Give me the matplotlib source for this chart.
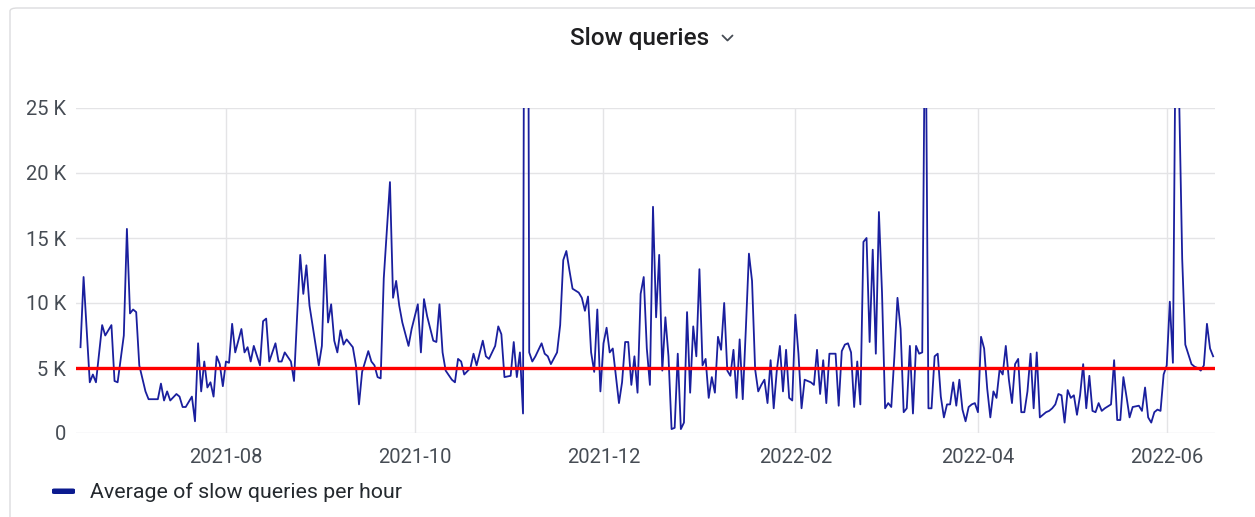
import matplotlib
matplotlib.use("Agg")
import matplotlib.pyplot as plt
import matplotlib.dates as mdates
import pandas as pd
from matplotlib.lines import Line2D
from matplotlib.patches import FancyBboxPatch

# day offsets from 2021-06-14 and the daily average of slow queries per hour
start_date = "2021-06-14"
days = [
    1, 2, 4, 5, 6, 8, 9, 11, 12, 13,
    15, 16, 17, 18, 19, 20, 22, 23, 26, 27,
    28, 29, 30, 32, 33, 34, 35, 37, 38, 39,
    40, 41, 42, 43, 44, 45, 46, 47, 48, 49,
    50, 51,
    53, 54, 55, 56, 57, 59, 60, 61, 62, 64,
    65, 66, 67, 69, 70, 71, 72, 73, 74, 75,
    77, 78, 79, 80, 81, 82, 83, 84, 85, 86,
    87, 89, 90, 91, 92, 94, 95, 96, 97, 98,
    99, 101, 102, 103, 104, 105, 107, 108, 110,
    111, 112, 113, 115, 116, 117, 118, 119, 121, 122,
    123, 124, 125, 127, 128, 129, 131, 132, 133, 135,
    136, 137, 138, 140, 141, 142, 143, 144, 145, 146,
    147, 148, 150, 151, 152, 153, 155, 156, 157, 158,
    159, 160, 162, 163, 164, 165, 166, 167, 168,
    169, 170, 171, 172, 173, 175, 176, 177, 178, 179,
    180, 181, 182, 183, 184, 185, 186, 187, 188, 189,
    190, 191, 192, 193, 194, 195, 196, 197, 198, 199,
    200, 201, 202, 203, 204, 205, 206, 207, 208, 209,
    210, 211, 212, 213, 214, 215, 216, 217, 218, 219,
    220, 221, 222, 223, 224, 225, 226,
    227, 228, 229, 230, 231, 232, 233, 234, 235, 237,
    238, 239, 240, 241, 242, 243, 245, 246, 247, 248,
    249, 250, 251, 252, 253, 254, 255, 256, 257, 258,
    259, 260, 261, 262, 263, 264, 265, 266, 267, 268,
    269, 270, 271, 272, 273, 274, 275, 276, 277, 278,
    279, 280, 281, 282, 283, 284,
    285, 286, 287, 288, 289, 290, 291, 292, 293, 294,
    295, 296, 297, 298, 299, 300, 301, 302, 303, 304,
    305, 306, 307, 308, 309, 310, 311, 313, 314, 315,
    316, 317, 318, 319, 320, 321, 322, 323, 324, 325,
    326, 327, 328, 329,
    330, 331, 332, 334, 335, 336, 337, 338, 339, 340,
    341, 343, 344, 345, 346, 347, 348, 349, 350, 351,
    352, 353, 354, 355, 356, 357, 358, 360, 361, 362,
    363, 364, 365, 366, 367,
]
queries = [
    6600, 12000, 3900, 4500, 3900, 8300, 7500, 8300, 4000, 3900,
    7500, 15700, 9200, 9500, 9300, 5200, 3200, 2600, 2600, 3800,
    2500, 3200, 2500, 3000, 2800, 2000, 2000, 2800, 900, 6900,
    3200, 5500, 3500, 3900, 2800, 5900, 5300, 3600, 5500, 5400,
    8400, 6200,
    8000, 6200, 6600, 5500, 6700, 5200, 8600, 8800, 5500, 6900,
    5500, 5500, 6200, 5500, 4000, 9000, 13700, 10700, 12900, 9800,
    6700, 5200, 6700, 13700, 8500, 9900, 7100, 6200, 7900, 6800,
    7200, 6600, 5200, 2200, 4700, 6300, 5500, 5200, 4300, 4200,
    11900, 19300, 10400, 11700, 9800, 8500, 6700, 8000, 9900,
    6200, 10300, 9000, 7100, 7000, 9900, 6200, 4800, 4100, 3900,
    5700, 5500, 4500, 5000, 6100, 5200, 7100, 5900, 5700, 6700,
    8200, 7600, 4300, 4400, 7000, 4300, 6200, 1500, 100000, 6200,
    5500, 5900, 6900, 6100, 5900, 5300, 6200, 8300, 13300, 14000,
    12500, 11100, 10800, 10400, 9400, 10500, 6200, 4700, 9500,
    3200, 6900, 8100, 6200, 6500, 2300, 3900, 7000, 7000, 3700,
    5900, 3100, 10700, 12000, 6500, 3700, 17400, 8900, 13700, 4800,
    8900, 5900, 300, 400, 6100, 300, 800, 9300, 3100, 8200,
    5900, 12600, 5200, 5700, 2700, 4300, 3100, 7400, 6400, 10000,
    4800, 4400, 6400, 2700, 7200, 2600, 8000, 13800, 11700, 4900,
    3200, 3700, 4100, 2300, 5600, 1900, 4800,
    6700, 3200, 6400, 2700, 2500, 9100, 6100, 1900, 4100, 3900,
    3700, 6400, 3000, 5600, 2300, 6100, 6100, 2100, 6300, 6800,
    6900, 6200, 2000, 5500, 2200, 14700, 15000, 7000, 14100, 6100,
    17000, 10800, 1900, 2300, 2000, 5900, 10400, 8000, 1600, 1900,
    6700, 1500, 6700, 6100, 6200, 36000, 1900, 1900, 5900, 6100,
    2800, 1200, 2200, 2200, 3900, 2100,
    4100, 1800, 900, 2000, 2200, 2300, 1600, 7400, 6500, 3400,
    1200, 3200, 2700, 4900, 4500, 6700, 4100, 2300, 5300, 5700,
    1600, 1600, 3200, 6100, 1900, 6200, 1200, 1600, 1700, 1900,
    2200, 3000, 2900, 800, 3300, 2700, 2900, 1400, 2900, 5300,
    1900, 4400, 1700, 1600,
    2300, 1700, 1900, 2200, 5600, 1000, 1000, 4300, 2800, 1200,
    2000, 2100, 1700, 3500, 1200, 800, 1600, 1800, 1700, 4500,
    5200, 10100, 5400, 35000, 26000, 13400, 6800, 5300, 5100, 5000,
    4800, 5200, 8400, 6500, 5900,
]
threshold = 5000
y_ticks = [0, 5000, 10000, 15000, 20000, 25000]
title = "Slow queries"
series_name = "Average of slow queries per hour"

assert len(days) == len(queries)

plt.rcParams["font.family"] = ["Roboto", "DejaVu Sans"]

start = pd.Timestamp(start_date)
dates = start + pd.to_timedelta(days, unit="D")

W, H = 1255, 517
fig = plt.figure(figsize=(W / 100, H / 100), dpi=100)
ax = fig.add_axes([76 / W, 1 - 433 / H, 1139 / W, 325 / H])

line_color = "#1a1f9e"
text_color = "#464c54"

ax.plot(dates, queries, color=line_color, lw=1.3, zorder=3)
ax.axhline(threshold, color="#ff0000", lw=2.4, zorder=4)

ax.set_ylim(0, 25000)
ax.set_xlim(start - pd.Timedelta(days=0.45), start + pd.Timedelta(days=367.6))
ax.set_yticks(y_ticks)
ax.set_yticklabels(["0" if v == 0 else f"{v // 1000} K" for v in y_ticks])
ax.xaxis.set_major_locator(mdates.MonthLocator(bymonth=[2, 4, 6, 8, 10, 12]))
ax.xaxis.set_major_formatter(mdates.DateFormatter("%Y-%m"))

ax.grid(True, color="#e4e4e6", lw=1)
ax.set_axisbelow(True)
for s in ax.spines.values():
    s.set_visible(False)
ax.tick_params(axis="both", length=0, labelsize=14.5, colors=text_color)
ax.tick_params(axis="x", pad=11)
ax.tick_params(axis="y", pad=7)

# panel frame
fig.add_artist(FancyBboxPatch((10 / W, -0.1), 1.2, 1.1 - 8 / H,
                              boxstyle="round,pad=0,rounding_size=0.006",
                              transform=fig.transFigure, fill=False,
                              edgecolor="#dcdcde", lw=1))

fig.text(640 / W, 1 - 38 / H, title, ha="center", va="center",
         fontsize=17.5, fontweight="medium", color="#1f1f21")
# chevron next to the title
fig.add_artist(Line2D([722.5 / W, 727.5 / W, 732.5 / W],
                      [1 - 35.5 / H, 1 - 40.5 / H, 1 - 35.5 / H],
                      color=text_color, lw=1.3, solid_capstyle="round",
                      solid_joinstyle="round"))

# legend
fig.add_artist(FancyBboxPatch((52 / W, 1 - 494 / H), 23 / W, 5.5 / H,
                              boxstyle="round,pad=0,rounding_size=0.002",
                              transform=fig.transFigure, facecolor="#0b1a8f",
                              edgecolor="none"))
fig.text(90 / W, 1 - 492 / H, series_name, ha="left", va="center",
         fontsize=15.4, color="#24292e")

fig.savefig("out.png", dpi=100, facecolor="white")
